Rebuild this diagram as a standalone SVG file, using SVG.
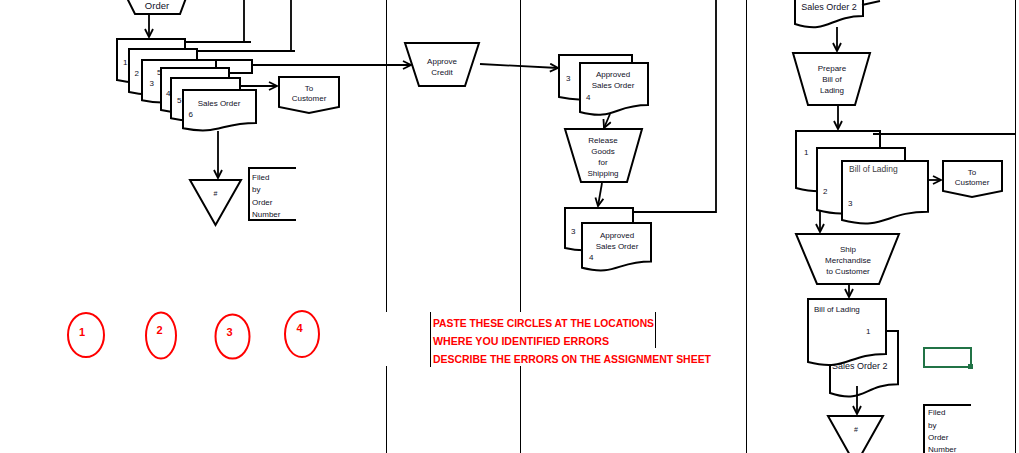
<svg xmlns="http://www.w3.org/2000/svg" width="1019" height="453" viewBox="0 0 1019 453">
<style>
.s{fill:#fff;stroke:#000;stroke-width:2}
.b{fill:none;stroke:#000;stroke-width:2}
.lane{stroke:#000;stroke-width:1;fill:none}
.cn{fill:none;stroke:#000;stroke-width:1.8}
.t{font-family:"Liberation Sans",Arial,sans-serif;font-size:8px;fill:#101028}
.m{text-anchor:middle}
.ring{fill:none;stroke:#f00;stroke-width:2}
.rn{font-family:"Liberation Sans",Arial,sans-serif;font-size:11px;font-weight:bold;fill:#f00;text-anchor:middle}
.rt{font-family:"Liberation Sans",Arial,sans-serif;font-size:11px;font-weight:bold;fill:#f00}
</style>
<defs>
<marker id="a" markerUnits="userSpaceOnUse" markerWidth="12" markerHeight="12" refX="9" refY="5" orient="auto">
<path d="M1 1L9 5L1 9" fill="none" stroke="#000" stroke-width="1.8"/>
</marker>
</defs>
<rect width="1019" height="453" fill="#fff"/>
<g id="lanes">
<path class="lane" d="M386.5 0V312M386.5 366V453M520.5 0V312M520.5 366V453M746.5 0V453M1015.5 0V453"/>
</g>
<g id="order">
<path class="s" d="M123 -10H189L180 14H135Z"/>
<text class="t m" x="157" y="9" style="font-size:9.5px">Order</text>
</g>
<g id="sales-order-stack">
<path class="s" d="M117 39H185V74.3C151 74.3 151 87.7 117 80.1Z"/>
<text class="t" x="123" y="65">1</text>
<path class="s" d="M129 49H197V85.9C163 85.9 163 99.9 129 92Z"/>
<text class="t" x="134.5" y="76">2</text>
<rect class="s" x="216" y="60" width="36" height="13"/>
<path class="s" d="M142 60H216V94.5C179 94.5 179 107.6 142 100.2Z"/>
<text class="t" x="149.5" y="86">3</text>
<text class="t" x="157" y="75">5</text>
<path class="s" d="M161 68H229V104.1C195 104.1 195 117.8 161 110Z"/>
<text class="t" x="166" y="96">4</text>
<path class="s" d="M171 78H240V112.5C205.5 112.5 205.5 125.6 171 118.2Z"/>
<text class="t" x="177" y="103">5</text>
<path class="s" d="M183 90H256V122.9C219.5 122.9 219.5 135.4 183 128.3Z"/>
<text class="t m" x="219" y="106">Sales Order</text>
<text class="t" x="188.5" y="117">6</text>
</g>
<g id="to-customer-1">
<path class="s" d="M279 77H339V107L309 113L279 107Z"/>
<text class="t m" x="309" y="91">To</text>
<text class="t m" x="309" y="101">Customer</text>
</g>
<g id="file-1">
<path class="s" d="M190 180H241L215.5 225Z"/>
<text class="t m" x="215.5" y="196" style="font-size:7px">#</text>
</g>
<g id="filed-note-1">
<path class="b" d="M296 168H249V220H296"/>
<text class="t" x="252" y="180">Filed</text>
<text class="t" x="252" y="192">by</text>
<text class="t" x="252" y="205">Order</text>
<text class="t" x="252" y="217">Number</text>
</g>
<g id="approve-credit">
<path class="s" d="M405 43H479L465 86H419Z"/>
<text class="t m" x="442" y="64">Approve</text>
<text class="t m" x="442" y="75">Credit</text>
</g>
<g id="approved-stack-1">
<path class="s" d="M559 55H632V91.1C595.5 91.1 595.5 104.8 559 97Z"/>
<text class="t" x="566" y="81">3</text>
<path class="s" d="M580 63H648V105.1C614 105.1 614 121.1 580 112Z"/>
<text class="t m" x="613" y="77">Approved</text>
<text class="t m" x="613" y="88">Sales Order</text>
<text class="t" x="586" y="100">4</text>
</g>
<g id="release-goods">
<path class="s" d="M565 129H642L627 182H581Z"/>
<text class="t m" x="603" y="143">Release</text>
<text class="t m" x="603" y="154">Goods</text>
<text class="t m" x="603" y="165">for</text>
<text class="t m" x="603" y="176">Shipping</text>
</g>
<g id="approved-stack-2">
<path class="s" d="M565 208H633V242.3C599 242.3 599 255.4 565 248Z"/>
<text class="t" x="571" y="234">3</text>
<path class="s" d="M582 223H651V261.5C616.5 261.5 616.5 276.2 582 267.8Z"/>
<text class="t m" x="617" y="238">Approved</text>
<text class="t m" x="617" y="249">Sales Order</text>
<text class="t" x="589" y="260">4</text>
</g>
<g id="sales-order-2-top">
<path class="s" d="M795 -32H863V16.1C829 16.1 829 34.5 795 24Z"/>
<text class="t m" x="829" y="10" style="font-size:9px">Sales Order 2</text>
</g>
<g id="prepare-bol">
<path class="s" d="M793 53H870L855 105H808Z"/>
<text class="t m" x="832" y="71">Prepare</text>
<text class="t m" x="832" y="82">Bill of</text>
<text class="t m" x="832" y="93">Lading</text>
</g>
<g id="bol-stack">
<path class="s" d="M796 131H880V179.9C838 179.9 838 198.6 796 188Z"/>
<text class="t" x="804" y="155">1</text>
<path class="s" d="M817 148H905V201.3C861 201.3 861 221.5 817 210Z"/>
<text class="t" x="823" y="194">2</text>
<path class="s" d="M842 161H928V211.7C885 211.7 885 231 842 220Z"/>
<text class="t" x="849" y="172" style="font-size:8.5px;fill:#404040">Bill of Lading</text>
<text class="t" x="848" y="206">3</text>
</g>
<g id="to-customer-2">
<path class="s" d="M943 161H1002V191L972 197L943 191Z"/>
<text class="t m" x="972" y="175">To</text>
<text class="t m" x="972" y="185">Customer</text>
</g>
<g id="ship-merchandise">
<path class="s" d="M796 234H899L879 284H817Z"/>
<text class="t m" x="848" y="252">Ship</text>
<text class="t m" x="848" y="263">Merchandise</text>
<text class="t m" x="848" y="274">to Customer</text>
</g>
<g id="bol-final">
<path class="s" d="M830 331H898V384.3C864 384.3 864 404.5 830 393Z"/>
<text class="t" x="832" y="369" style="font-size:9px">Sales Order 2</text>
<path class="s" d="M808 299H886V353.9C847 353.9 847 372 808 362Z"/>
<text class="t" x="814" y="312">Bill of Lading</text>
<text class="t" x="866" y="334">1</text>
</g>
<g id="file-2">
<path class="s" d="M828 416H883L855.5 465Z"/>
<text class="t m" x="856" y="432" style="font-size:7px">#</text>
</g>
<g id="filed-note-2">
<path class="b" d="M971 405H924V460"/>
<text class="t" x="928" y="415">Filed</text>
<text class="t" x="928" y="428">by</text>
<text class="t" x="928" y="440">Order</text>
<text class="t" x="928" y="452">Number</text>
</g>
<g id="selection">
<rect x="924" y="348" width="47" height="19" fill="none" stroke="#217346" stroke-width="2"/>
<rect x="968" y="364" width="5" height="5" fill="#217346"/>
</g>
<g id="connectors">
<path class="cn" d="M149 14V37" marker-end="url(#a)"/>
<path class="cn" d="M244 0V42M185 42H251M291 0V51M197 51H295"/>
<path class="cn" d="M252 65H411" marker-end="url(#a)"/>
<path class="cn" d="M240 86H277" marker-end="url(#a)"/>
<path class="cn" d="M218 131V178" marker-end="url(#a)"/>
<path class="cn" d="M480 64L558 68" marker-end="url(#a)"/>
<path class="cn" d="M610 114L604 128" marker-end="url(#a)"/>
<path class="cn" d="M602 183L598 206" marker-end="url(#a)"/>
<path class="cn" d="M633 212H716V0"/>
<path class="cn" d="M837 27V51" marker-end="url(#a)"/>
<path class="cn" d="M838 106V129" marker-end="url(#a)"/>
<path class="cn" d="M873 134H1015"/>
<path class="cn" d="M862 5L880 1"/>
<path class="cn" d="M928 180H941" marker-end="url(#a)"/>
<path class="cn" d="M820 211V232" marker-end="url(#a)"/>
<path class="cn" d="M849 285V297" marker-end="url(#a)"/>
<path class="cn" d="M857 386V414" marker-end="url(#a)"/>
</g>
<g id="error-circles">
<ellipse class="ring" cx="86" cy="335" rx="18" ry="22"/>
<text class="rn" x="82" y="336">1</text>
<ellipse class="ring" cx="161" cy="335.5" rx="15" ry="23"/>
<text class="rn" x="159.5" y="334">2</text>
<ellipse class="ring" cx="232.5" cy="336.5" rx="17" ry="22"/>
<text class="rn" x="229.5" y="336">3</text>
<ellipse class="ring" cx="302" cy="334" rx="17" ry="23"/>
<text class="rn" x="299.5" y="332">4</text>
</g>
<g id="instructions">
<path class="lane" d="M430.5 312V367M655.5 312V348"/>
<text class="rt" x="433" y="327" textLength="221" lengthAdjust="spacingAndGlyphs">PASTE THESE CIRCLES AT THE LOCATIONS</text>
<text class="rt" x="433" y="345" textLength="176" lengthAdjust="spacingAndGlyphs">WHERE YOU IDENTIFIED ERRORS</text>
<text class="rt" x="433" y="363" textLength="278" lengthAdjust="spacingAndGlyphs">DESCRIBE THE ERRORS ON THE ASSIGNMENT SHEET</text>
</g>
</svg>
